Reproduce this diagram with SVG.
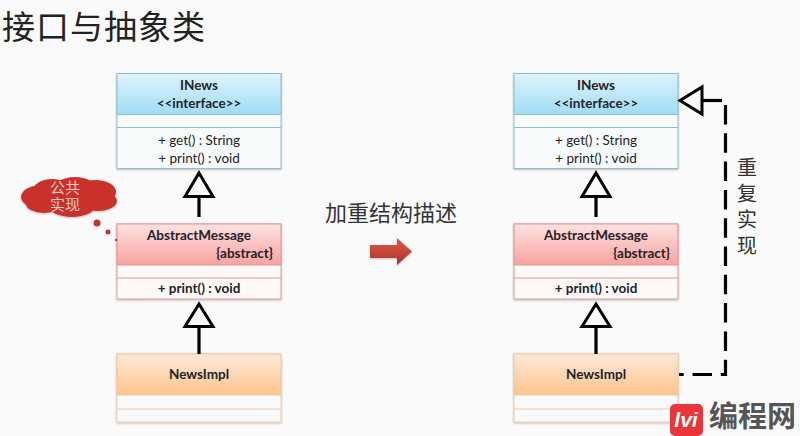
<svg xmlns="http://www.w3.org/2000/svg" width="800" height="436" viewBox="0 0 800 436">
<style>
.uml{font-family:Lato,"Liberation Sans",sans-serif;font-size:13.5px;fill:#22222a;text-anchor:middle}
.b{font-weight:bold}
.cjk{font-family:"Noto Sans CJK SC",sans-serif;fill:#333}
.edge{fill:none;stroke:#000;stroke-width:3.2}
.head{fill:#fafafa;stroke:#000;stroke-width:3}
.bl{stroke:#8fc0d0;fill:#f8fbfc}
.rd{stroke:#dd9a9a;fill:#fdf9f9}
.or{stroke:#f0c8a0;fill:#f8fafc}
</style>
<defs>
<linearGradient id="gb" x1="0" y1="0" x2="0" y2="1"><stop offset="0" stop-color="#dff3fb"/><stop offset="1" stop-color="#9fdcf5"/></linearGradient>
<linearGradient id="gr" x1="0" y1="0" x2="0" y2="1"><stop offset="0" stop-color="#fde2e0"/><stop offset="1" stop-color="#f8a3a0"/></linearGradient>
<linearGradient id="go" x1="0" y1="0" x2="0" y2="1"><stop offset="0" stop-color="#fde9d8"/><stop offset="1" stop-color="#fbc48c"/></linearGradient>
<linearGradient id="ga" x1="0" y1="0" x2="0" y2="1"><stop offset="0" stop-color="#e2574a"/><stop offset="1" stop-color="#a8342a"/></linearGradient>
<filter id="sh" x="-5%" y="-5%" width="110%" height="115%"><feDropShadow dx="0" dy="1" stdDeviation="1" flood-color="#000" flood-opacity="0.25"/></filter>
<g id="iface">
<rect x="0" y="0" width="164" height="95" class="bl" filter="url(#sh)"/>
<rect x="0" y="0" width="164" height="41" fill="url(#gb)" stroke="#8fc0d0"/>
<line x1="0" y1="54" x2="164" y2="54" stroke="#8fc0d0"/>
<text x="82" y="16" class="uml b">INews</text>
<text x="82" y="34" class="uml b">&lt;&lt;interface&gt;&gt;</text>
<text x="82" y="71" class="uml">+ get() : String</text>
<text x="82" y="89" class="uml">+ print() : void</text>
</g>
<g id="abstract">
<rect x="0" y="0" width="164" height="75" class="rd" filter="url(#sh)"/>
<rect x="0" y="0" width="164" height="41" fill="url(#gr)" stroke="#dd9a9a"/>
<line x1="0" y1="54" x2="164" y2="54" stroke="#dd9a9a"/>
<text x="82" y="16" class="uml b">AbstractMessage</text>
<text x="156" y="34" class="uml b" style="text-anchor:end">{abstract}</text>
<text x="82" y="69" class="uml b">+ print() : void</text>
</g>
<g id="impl">
<rect x="0" y="0" width="164" height="68" class="or" filter="url(#sh)"/>
<rect x="0" y="0" width="164" height="41" fill="url(#go)" stroke="#f0c8a0"/>
<line x1="0" y1="55" x2="164" y2="55" stroke="#f0c8a0"/>
<text x="82" y="25" class="uml b">NewsImpl</text>
</g>
</defs>
<rect width="800" height="436" fill="#fafafa"/>
<text id="title" x="2" y="38.500" font-size="33" letter-spacing="1" class="cjk" style="fill:#222">接口与抽象类</text>
<g id="left-inews"><use href="#iface" x="117" y="73.5"/></g>
<g id="left-abstract"><use href="#abstract" x="117" y="224"/></g>
<g id="left-impl"><use href="#impl" x="117" y="354"/></g>
<g id="right-inews"><use href="#iface" x="514" y="73.5"/></g>
<g id="right-abstract"><use href="#abstract" x="514" y="224"/></g>
<g id="right-impl"><use href="#impl" x="514" y="354"/></g>
<g id="connectors">
<path class="edge" d="M199 217V195"/><path class="head" d="M199 173L213 196.500H185Z"/>
<path class="edge" d="M199 354V326"/><path class="head" d="M199 304L213 326.500H185Z"/>
<path class="edge" d="M596 217V195"/><path class="head" d="M596 173L610 196.500H582Z"/>
<path class="edge" d="M596 354V326"/><path class="head" d="M596 304L610 326.500H582Z"/>
<path class="edge" d="M702 100.500H722"/><path class="head" d="M680 100.500L702 87V114Z"/>
<path class="edge" stroke-dasharray="19.500 8.800" d="M725.500 105V374.500H679"/>
</g>
<g id="cloud">
<g fill="#c8322b" filter="url(#sh)">
<ellipse cx="42" cy="197" rx="21" ry="12"/><ellipse cx="52" cy="191" rx="19" ry="12"/><ellipse cx="75" cy="189" rx="21" ry="12"/><ellipse cx="96" cy="192" rx="20" ry="12"/><ellipse cx="98" cy="201" rx="19" ry="10"/><ellipse cx="72" cy="205" rx="24" ry="12"/><ellipse cx="44" cy="204" rx="18" ry="9"/><ellipse cx="65" cy="197" rx="40" ry="12"/>
</g>
<circle cx="97" cy="223" r="3.500" fill="#c8322b"/><circle cx="108" cy="232" r="2.500" fill="#c8322b"/><circle cx="116" cy="240" r="1.200" fill="#c8322b"/>
<text font-size="15" text-anchor="middle" class="cjk" style="fill:#f2c8c4"><tspan x="65" y="192.500">公共</tspan><tspan x="65" y="209.500">实现</tspan></text>
</g>
<text id="label-mid" x="391" y="221" font-size="22" text-anchor="middle" class="cjk">加重结构描述</text>
<path id="arrow" d="M370 245H397V238L412 251.500L397 265V258H370Z" fill="url(#ga)" filter="url(#sh)"/>
<text id="label-side" x="747" y="157" font-size="20" letter-spacing="6.300" class="cjk" style="writing-mode:vertical-rl">重复实现</text>
<g id="watermark">
<rect x="670" y="404" width="33" height="32" rx="5" fill="#e8373a"/>
<text x="686" y="427" font-size="21" font-weight="bold" font-style="italic" text-anchor="middle" font-family="Liberation Sans,sans-serif" fill="#fff">lvi</text>
<text x="709" y="427" font-size="29" font-weight="bold" class="cjk" style="fill:#555">编程网</text>
</g>
</svg>
